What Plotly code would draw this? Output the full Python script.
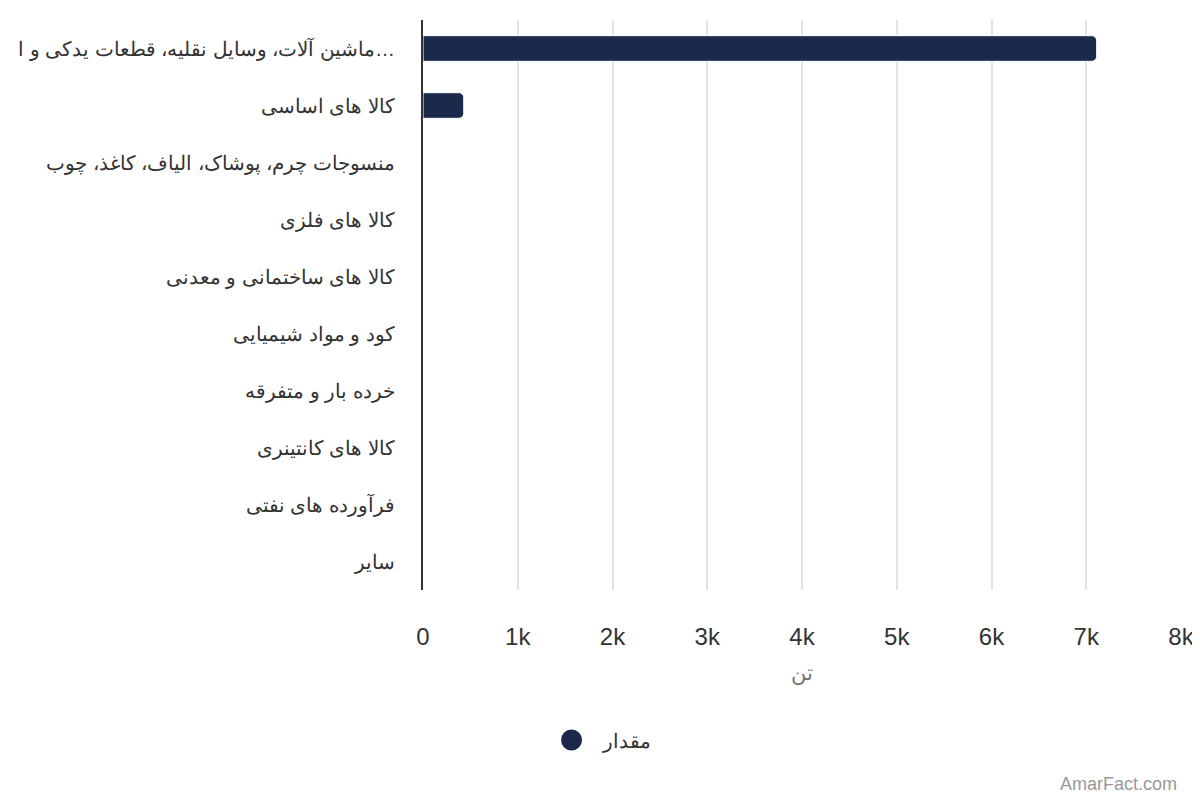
import plotly.graph_objects as go


# data, top to bottom as in the picture
categories = [
    "ماشین آلات، وسایل نقلیه، قطعات یدکی و ا…",
    "کالا های اساسی",
    "منسوجات چرم، پوشاک، الیاف، کاغذ، چوب",
    "کالا های فلزی",
    "کالا های ساختمانی و معدنی",
    "کود و مواد شیمیایی",
    "خرده بار و متفرقه",
    "کالا های کانتینری",
    "فرآورده های نفتی",
    "سایر",
]
values = [7110, 430, 0, 0, 0, 0, 0, 0, 0, 0]
series_name = "مقدار"
x_title = "تن"
tick_vals = [0, 1000, 2000, 3000, 4000, 5000, 6000, 7000, 8000]
tick_text = ["0", "1k", "2k", "3k", "4k", "5k", "6k", "7k", "8k"]

BAR_COLOR = "#1b2a4b"
FONT = "Liberation Sans, Arial, sans-serif"

fig = go.Figure()

fig.add_trace(go.Bar(
    y=categories,
    x=values,
    orientation="h",
    name=series_name,
    marker=dict(color=BAR_COLOR, cornerradius=5, line=dict(color="white", width=1)),
    showlegend=False,
))

# legend entry with a round symbol (outline makes it bigger in the legend)
fig.add_trace(go.Scatter(
    x=[None], y=[None],
    mode="markers",
    name="\u00a0\u00a0" + series_name,
    marker=dict(color=BAR_COLOR, size=24, symbol="circle",
                line=dict(color=BAR_COLOR, width=5)),
))

# the page puts the plot 8px in from the top-left, margins make up for it
fig.update_layout(
    width=1200, height=800,
    margin=dict(l=415, r=27, t=12, b=218, autoexpand=False),
    plot_bgcolor="white",
    paper_bgcolor="white",
    font=dict(family=FONT, color="#333333"),
    bargap=0.55,
    legend=dict(
        orientation="h",
        x=0.4967, xref="container", xanchor="center",
        y=68 / 800, yref="container", yanchor="middle",
        font=dict(size=20, color="#333333"),
    ),
)

fig.update_xaxes(
    range=[0, 8000],
    tickvals=tick_vals,
    ticktext=tick_text,
    tickfont=dict(size=24, color="#333333"),
    ticklabelstandoff=30,
    automargin=False,
    showgrid=True,
    gridcolor="#e3e3e3",
    gridwidth=2,
    zeroline=False,
    showline=False,
    title=dict(text=x_title, font=dict(size=21, color="#777777"), standoff=16),
)

fig.update_yaxes(
    categoryorder="array",
    categoryarray=categories[::-1],
    tickfont=dict(size=20, color="#333333"),
    ticklabelstandoff=22,
    automargin=False,
    showgrid=False,
    showline=True,
    linecolor="#333333",
    linewidth=2,
)

fig.add_annotation(
    text="AmarFact.com",
    xref="paper", yref="paper",
    x=1.0, xanchor="right", xshift=-2,
    y=-0.34, yanchor="middle",
    showarrow=False,
    font=dict(size=18, color="#999999"),
)

fig.write_html("out.html")
